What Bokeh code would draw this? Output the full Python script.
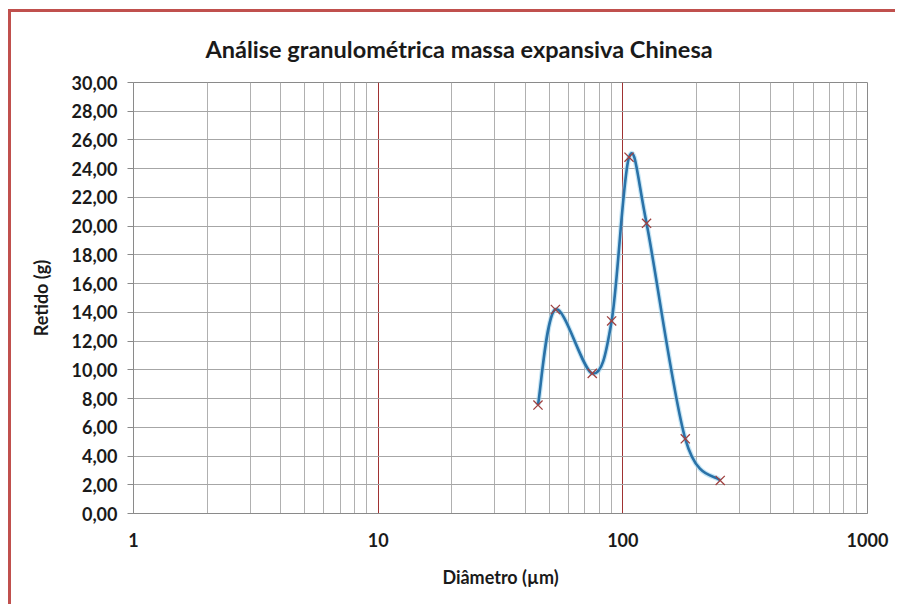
import numpy as np
from bokeh.plotting import figure
from bokeh.models import FixedTicker, CustomJSTickFormatter, ColumnDataSource, InlineStyleSheet
from bokeh.embed import file_html
from bokeh.resources import INLINE

# Data
diametro = [45, 53, 75, 90, 106, 125, 180, 250]
retido = [7.55, 14.2, 9.75, 13.4, 24.8, 20.2, 5.2, 2.3]
x_ticks = [1, 10, 100, 1000]
y_ticks = [0, 2, 4, 6, 8, 10, 12, 14, 16, 18, 20, 22, 24, 26, 28, 30]

FONT = "Lato"

p = figure(width=887, height=595, x_axis_type="log", x_range=(1, 1000), y_range=(0, 30),
           output_backend="svg", toolbar_location=None,
           min_border_left=122, min_border_right=31, min_border_top=70, min_border_bottom=94)

p.stylesheets = [InlineStyleSheet(css=":host { border-left: 3px solid #c0504d; border-top: 3px solid #c0504d; "
                                      "margin-left: 8px; margin-top: 9px; }")]

p.title.text = "Análise granulométrica massa expansiva Chinesa"
p.title.text_font = FONT
p.title.text_font_size = "23.5px"
p.title.text_font_style = "bold"
p.title.text_color = "#1a1a1a"
p.title.align = "left"
p.title.offset = 72
p.title.standoff = 40

p.background_fill_color = "white"
p.border_fill_color = "white"
p.outline_line_color = "#8a8a8a"
p.outline_line_width = 1

minor = [m * d for d in (1, 10, 100) for m in range(2, 10)]
p.xaxis.ticker = FixedTicker(ticks=x_ticks, minor_ticks=minor)
p.xaxis.formatter = CustomJSTickFormatter(code="return tick.toString();")
p.xgrid.ticker = FixedTicker(ticks=[10, 100], minor_ticks=minor)
p.xgrid.grid_line_color = "#a03232"
p.xgrid.grid_line_width = 1
p.xgrid.minor_grid_line_color = "#b0b0b0"
p.xgrid.minor_grid_line_width = 1

p.yaxis.ticker = FixedTicker(ticks=y_ticks)
p.yaxis.formatter = CustomJSTickFormatter(code="return tick.toFixed(2).replace('.', ',');")
p.ygrid.grid_line_color = "#a6a6a6"
p.ygrid.grid_line_width = 1

for ax in (p.xaxis[0], p.yaxis[0]):
    ax.axis_line_color = "#8a8a8a"
    ax.major_label_text_font = FONT
    ax.major_label_text_font_size = "18px"
    ax.major_label_text_font_style = "bold"
    ax.major_label_text_color = "#1a1a1a"
    ax.axis_label_text_font = FONT
    ax.axis_label_text_font_size = "18px"
    ax.axis_label_text_font_style = "bold"
    ax.axis_label_text_color = "#1a1a1a"
    ax.minor_tick_line_color = None

p.xaxis.major_tick_line_color = None
p.xaxis.major_label_standoff = 13
p.xaxis.axis_label = "Diâmetro (µm)"
p.xaxis.axis_label_standoff = 16

p.yaxis.major_tick_line_color = "#8a8a8a"
p.yaxis.major_tick_out = 6
p.yaxis.major_tick_in = 0
p.yaxis.major_label_standoff = 10
p.yaxis.axis_label = "Retido (g)"
p.yaxis.axis_label_standoff = 17

# Smoothed line (Catmull-Rom style Bezier, like spreadsheet smoothing) in log-x space
lx = np.log10(np.array(diametro, dtype=float))
yy = np.array(retido, dtype=float)
n = len(lx)
x0, y0, x1, y1, cx0, cy0, cx1, cy1 = ([] for _ in range(8))
for i in range(n - 1):
    im1 = max(i - 1, 0)
    ip2 = min(i + 2, n - 1)
    c0x = lx[i] + (lx[i + 1] - lx[im1]) / 6.0
    c0y = yy[i] + (yy[i + 1] - yy[im1]) / 6.0
    c1x = lx[i + 1] - (lx[ip2] - lx[i]) / 6.0
    c1y = yy[i + 1] - (yy[ip2] - yy[i]) / 6.0
    x0.append(10 ** lx[i]); y0.append(yy[i])
    x1.append(10 ** lx[i + 1]); y1.append(yy[i + 1])
    cx0.append(10 ** c0x); cy0.append(c0y)
    cx1.append(10 ** c1x); cy1.append(c1y)

bsrc = ColumnDataSource(dict(x0=x0, y0=y0, x1=x1, y1=y1, cx0=cx0, cy0=cy0, cx1=cx1, cy1=cy1))
p.bezier(x0="x0", y0="y0", x1="x1", y1="y1", cx0="cx0", cy0="cy0", cx1="cx1", cy1="cy1",
         source=bsrc, line_color="#9fd3ee", line_width=5, line_alpha=0.6)
p.bezier(x0="x0", y0="y0", x1="x1", y1="y1", cx0="cx0", cy0="cy0", cx1="cx1", cy1="cy1",
         source=bsrc, line_color="#2a72a8", line_width=2.6)

p.scatter(diametro, retido, marker="x", size=13, line_color="#a0403f", line_width=1.3)

open("out.html", "w").write(file_html(p, INLINE))
